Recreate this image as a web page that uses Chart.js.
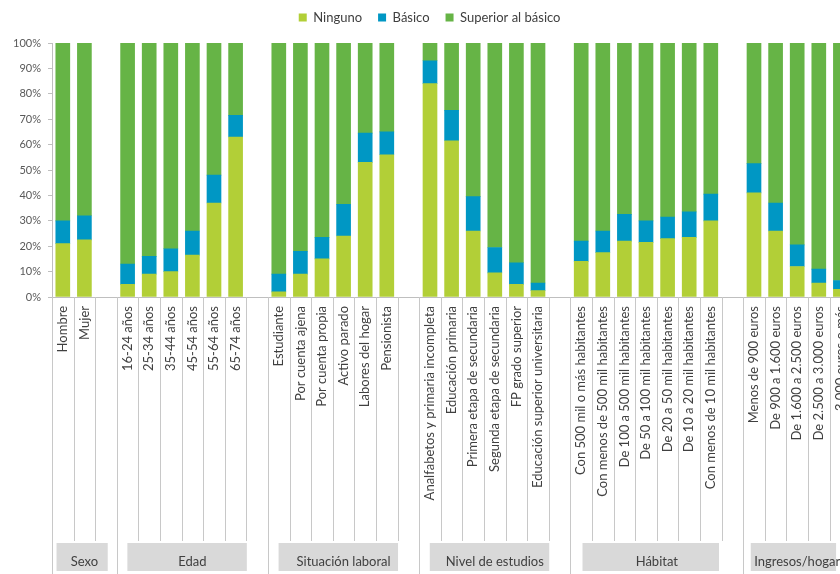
<!DOCTYPE html>
<html lang="es">
<head>
<meta charset="utf-8">
<script src="https://cdn.jsdelivr.net/npm/chart.js@4.4.1/dist/chart.umd.min.js"></script>
<style>
  html, body { margin: 0; padding: 0; background: #fff; overflow: hidden; }
  #marco { width: 840px; height: 574px; overflow: hidden; }
</style>
</head>
<body>
<div id="marco"><canvas id="grafico" width="872" height="574"></canvas></div>
<script>
// categorías del eje X ('' = hueco entre bloques)
const categorias = [
  'Hombre', 'Mujer', '',
  '16-24 años', '25-34 años', '35-44 años', '45-54 años', '55-64 años', '65-74 años', '',
  'Estudiante', 'Por cuenta ajena', 'Por cuenta propia', 'Activo parado', 'Labores del hogar', 'Pensionista', '',
  'Analfabetos y primaria incompleta', 'Educación primaria', 'Primera etapa de secundaria',
  'Segunda etapa de secundaria', 'FP grado superior', 'Educación superior universitaria', '',
  'Con 500 mil o más habitantes', 'Con menos de 500 mil habitantes', 'De 100 a 500 mil habitantes',
  'De 50 a 100 mil habitantes', 'De 20 a 50 mil habitantes', 'De 10 a 20 mil habitantes',
  'Con menos de 10 mil habitantes', '',
  'Menos de 900 euros', 'De 900 a 1.600 euros', 'De 1.600 a 2.500 euros', 'De 2.500 a 3.000 euros',
  '3.000 euros o más'
];

const ninguno = [
  21, 22.5, null,
  5, 9, 10, 16.5, 37, 63, null,
  2, 9, 15, 24, 53, 56, null,
  84, 61.5, 26, 9.5, 5, 2.5, null,
  14, 17.5, 22, 21.5, 23, 23.5, 30, null,
  41, 26, 12, 5.5, 3
];
const basico = [
  9, 9.5, null,
  8, 7, 9, 9.5, 11, 8.5, null,
  7, 9, 8.5, 12.5, 11.5, 9, null,
  9, 12, 13.5, 10, 8.5, 3, null,
  8, 8.5, 10.5, 8.5, 8.5, 10, 10.5, null,
  11.5, 11, 8.5, 5.5, 3.5
];
const superior = [
  70, 68, null,
  87, 84, 81, 74, 52, 28.5, null,
  91, 82, 76.5, 63.5, 35.5, 35, null,
  7, 26.5, 60.5, 80.5, 86.5, 94.5, null,
  78, 74, 67.5, 70, 68.5, 66.5, 59.5, null,
  47.5, 63, 79.5, 89, 93.5
];

// bloques de categorías: nombre, primera posición y nº de posiciones (incluye el hueco)
const grupos = ['Sexo', 'Edad', 'Situación laboral', 'Nivel de estudios', 'Hábitat', 'Ingresos/hogar'];
const inicioGrupo = [0, 3, 10, 17, 24, 32];
const tamGrupo = [3, 7, 7, 7, 8, 5];

const fuente = 'Lato, "Open Sans", sans-serif';

// líneas separadoras y etiquetas de bloque bajo el eje X
const separadores = {
  id: 'separadores',
  afterDraw(chart) {
    const { ctx } = chart;
    const x = chart.scales.x;
    const paso = x.width / categorias.length;
    ctx.save();
    ctx.strokeStyle = '#c8c8c8';
    ctx.lineWidth = 1;
    for (let i = 0; i <= categorias.length; i++) {
      const px = Math.round(x.left + i * paso) + 0.5;
      const largo = inicioGrupo.includes(i);
      ctx.beginPath();
      ctx.moveTo(px, x.top);
      ctx.lineTo(px, largo ? chart.height : x.top + 244);
      ctx.stroke();
    }
    ctx.font = '13px ' + fuente;
    ctx.textAlign = 'center';
    ctx.textBaseline = 'middle';
    grupos.forEach((g, k) => {
      const x0 = x.left + inicioGrupo[k] * paso;
      const w = tamGrupo[k] * paso;
      ctx.fillStyle = '#d9d9d9';
      ctx.fillRect(x0 + 0.07 * w, x.top + 246, 0.79 * w, 28);
      ctx.fillStyle = '#404040';
      ctx.fillText(g, x0 + w / 2, x.top + 265);
    });
    ctx.restore();
  }
};

// un poco de aire entre la leyenda y el área del gráfico
const huecoLeyenda = {
  id: 'huecoLeyenda',
  beforeInit(chart) {
    const fitOriginal = chart.legend.fit;
    chart.legend.fit = function () {
      fitOriginal.bind(chart.legend)();
      this.height += 9;
    };
  }
};

new Chart(document.getElementById('grafico'), {
  type: 'bar',
  data: {
    labels: categorias,
    datasets: [
      { label: 'Ninguno', data: ninguno, backgroundColor: '#b2cf37' },
      { label: 'Básico', data: basico, backgroundColor: '#0097c4' },
      { label: 'Superior al básico', data: superior, backgroundColor: '#66b446' }
    ]
  },
  options: {
    responsive: false,
    animation: false,
    layout: { padding: { left: 8, right: 20.8, top: -5, bottom: 0 } },
    datasets: { bar: { barThickness: 14 } },
    plugins: {
      tooltip: { enabled: false },
      legend: {
        position: 'top',
        labels: {
          boxWidth: 8, boxHeight: 8, padding: 16,
          color: '#404040',
          font: { family: fuente, size: 13 }
        }
      }
    },
    scales: {
      x: {
        stacked: true,
        grid: { display: false, drawTicks: false },
        border: { display: true, color: '#bfbfbf' },
        ticks: {
          autoSkip: false, maxRotation: 90, minRotation: 90, padding: 9,
          color: '#404040',
          font: { family: fuente, size: 13 }
        },
        afterFit(scale) { scale.height = 277; }
      },
      y: {
        stacked: true,
        min: 0, max: 100,
        grid: { drawOnChartArea: false, drawTicks: true, tickLength: 4, color: '#bfbfbf' },
        border: { color: '#bfbfbf' },
        ticks: {
          stepSize: 10, padding: 7,
          color: '#595959',
          font: { family: fuente, size: 11 },
          callback: v => v + '%'
        },
        afterFit(scale) { scale.width = 44; }
      }
    }
  },
  plugins: [separadores, huecoLeyenda]
});
</script>
</body>
</html>
